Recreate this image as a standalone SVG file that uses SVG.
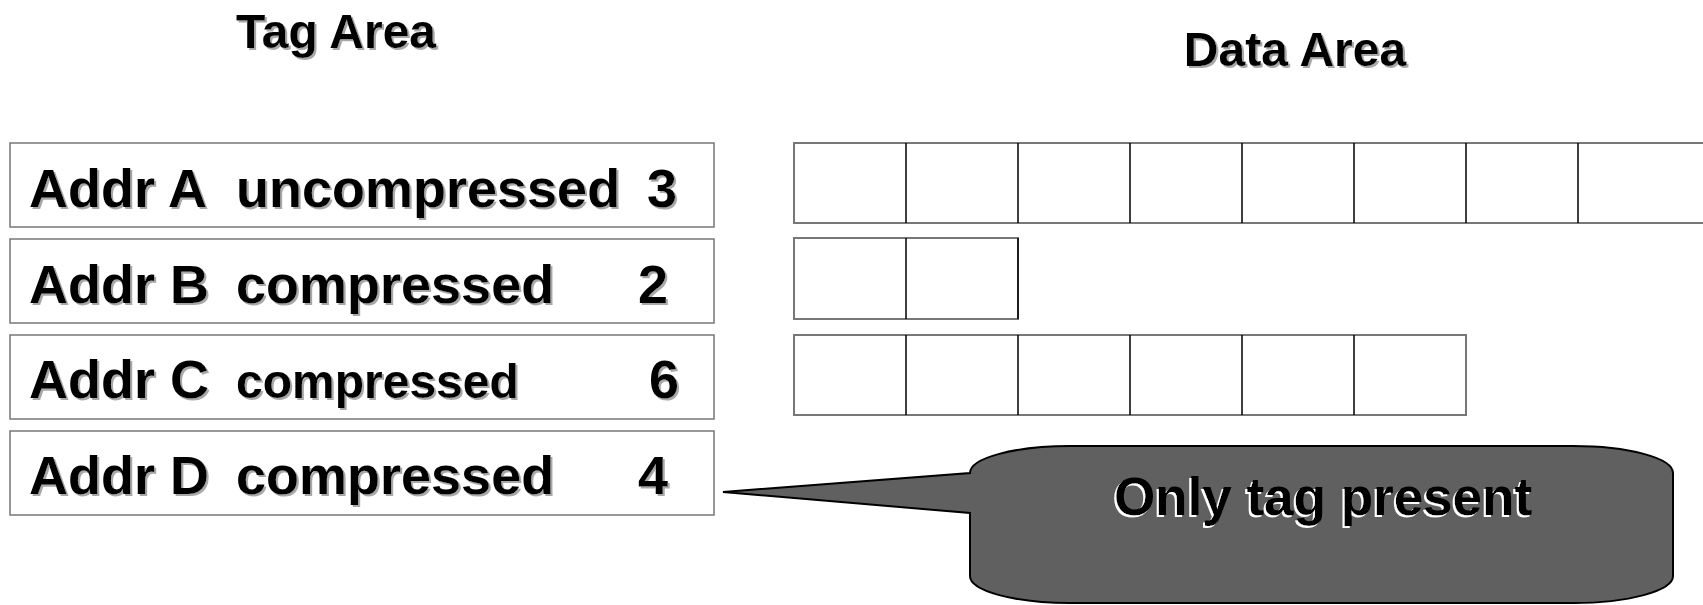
<svg xmlns="http://www.w3.org/2000/svg" width="1703" height="605" viewBox="0 0 1703 605">
  <defs>
    <filter id="shadow" x="-5%" y="-20%" width="115%" height="150%">
      <feOffset in="SourceAlpha" dx="2" dy="2" result="off"/>
      <feFlood flood-color="#a8a8a8"/>
      <feComposite in2="off" operator="in" result="sh"/>
      <feMerge><feMergeNode in="sh"/><feMergeNode in="SourceGraphic"/></feMerge>
    </filter>
    <filter id="emboss" x="-5%" y="-20%" width="115%" height="150%">
      <feOffset in="SourceAlpha" dx="-2" dy="2" result="off"/>
      <feFlood flood-color="#ffffff"/>
      <feComposite in2="off" operator="in" result="sh"/>
      <feMerge><feMergeNode in="sh"/><feMergeNode in="SourceGraphic"/></feMerge>
    </filter>
    <style>
      .t { font-family: "Liberation Sans", Arial, sans-serif; font-weight: bold; fill: #000; }
      .title { font-size: 48px; filter: url(#shadow); }
      .tag { font-size: 54px; filter: url(#shadow); }
      .tagbox { fill: #fff; stroke: #777; stroke-width: 1.5; }
      .cellbox { fill: #fff; stroke: #777; stroke-width: 2; }
      .div { stroke: #000; stroke-width: 1.5; }
      .callout { fill: #606060; stroke: #000; stroke-width: 2; }
      .ctext { font-size: 53px; filter: url(#emboss); }
    </style>
  </defs>
  <rect width="1703" height="605" fill="#fff"/>

  <g id="titles">
    <text class="t title" x="336" y="48" text-anchor="middle">Tag Area</text>
    <text class="t title" x="1295" y="66" text-anchor="middle">Data Area</text>
  </g>

  <g id="tag-a">
    <rect class="tagbox" x="10" y="143" width="704" height="84"/>
    <text class="t tag" y="207"><tspan x="29">Addr A</tspan><tspan x="236">uncompressed</tspan><tspan x="647">3</tspan></text>
  </g>
  <g id="tag-b">
    <rect class="tagbox" x="10" y="239" width="704" height="84"/>
    <text class="t tag" y="303"><tspan x="29">Addr B</tspan><tspan x="236">compressed</tspan><tspan x="638">2</tspan></text>
  </g>
  <g id="tag-c">
    <rect class="tagbox" x="10" y="335" width="704" height="84"/>
    <text class="t tag" y="398"><tspan x="29">Addr C</tspan><tspan x="236" font-size="48">compressed</tspan><tspan x="649">6</tspan></text>
  </g>
  <g id="tag-d">
    <rect class="tagbox" x="10" y="431" width="704" height="84"/>
    <text class="t tag" y="494"><tspan x="29">Addr D</tspan><tspan x="236">compressed</tspan><tspan x="638">4</tspan></text>
  </g>

  <g id="data-a">
    <rect class="cellbox" x="794" y="143" width="1008" height="80"/>
    <path class="div" d="M906 143V223M1018 143V223M1130 143V223M1242 143V223M1354 143V223M1466 143V223M1578 143V223"/>
  </g>
  <g id="data-b">
    <rect class="cellbox" x="794" y="238" width="224" height="81"/>
    <path class="div" d="M906 238V319M1018 238V319"/>
  </g>
  <g id="data-c">
    <rect class="cellbox" x="794" y="335" width="672" height="80"/>
    <path class="div" d="M906 335V415M1018 335V415M1130 335V415M1242 335V415M1354 335V415"/>
  </g>

  <g id="callout">
    <path class="callout" d="M1070 446 H1573 A100 27 0 0 1 1673 473 V576 A100 27 0 0 1 1573 603 H1070 A100 27 0 0 1 970 576 V513 L723 492 L970 473 A100 27 0 0 1 1070 446 Z"/>
    <text class="t ctext" x="1323" y="515" text-anchor="middle">Only tag present</text>
  </g>
</svg>
